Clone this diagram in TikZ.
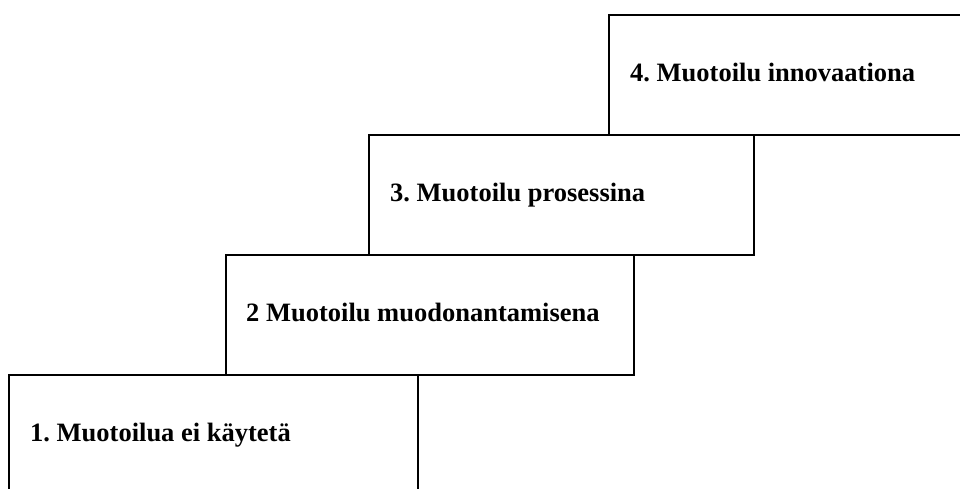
\documentclass[tikz,border=0pt]{standalone}
\usepackage{fontspec}
\setmainfont{Liberation Serif}
\begin{document}
\frenchspacing
\begin{tikzpicture}[x=1pt,y=-1pt,
  stepbox/.style={draw=black, line width=1.3pt, rectangle, inner sep=0pt, outer sep=0pt, anchor=north west},
  steplabel/.style={anchor=base west, inner sep=0pt, font=\fontsize{26.5}{30}\selectfont\bfseries}]
\clip (0,0) rectangle (960,488);
\fill[white] (0,0) rectangle (960,488);
\node[stepbox, minimum width=409pt, minimum height=140pt] (b1) at (9,375) {};
\node[stepbox, minimum width=408pt, minimum height=120pt] (b2) at (226,255) {};
\node[stepbox, minimum width=385pt, minimum height=120pt] (b3) at (369,135) {};
\node[stepbox, minimum width=400pt, minimum height=120pt] (b4) at (609,15) {};
\node[steplabel] (t1) at (30,441.5) {1. Muotoilua ei käytetä};
\node[steplabel] (t2) at (246,321.5) {2 Muotoilu muodonantamisena};
\node[steplabel] (t3) at (390,201) {3. Muotoilu prosessina};
\node[steplabel] (t4) at (630,81) {4. Muotoilu innovaationa};
\end{tikzpicture}
\end{document}
